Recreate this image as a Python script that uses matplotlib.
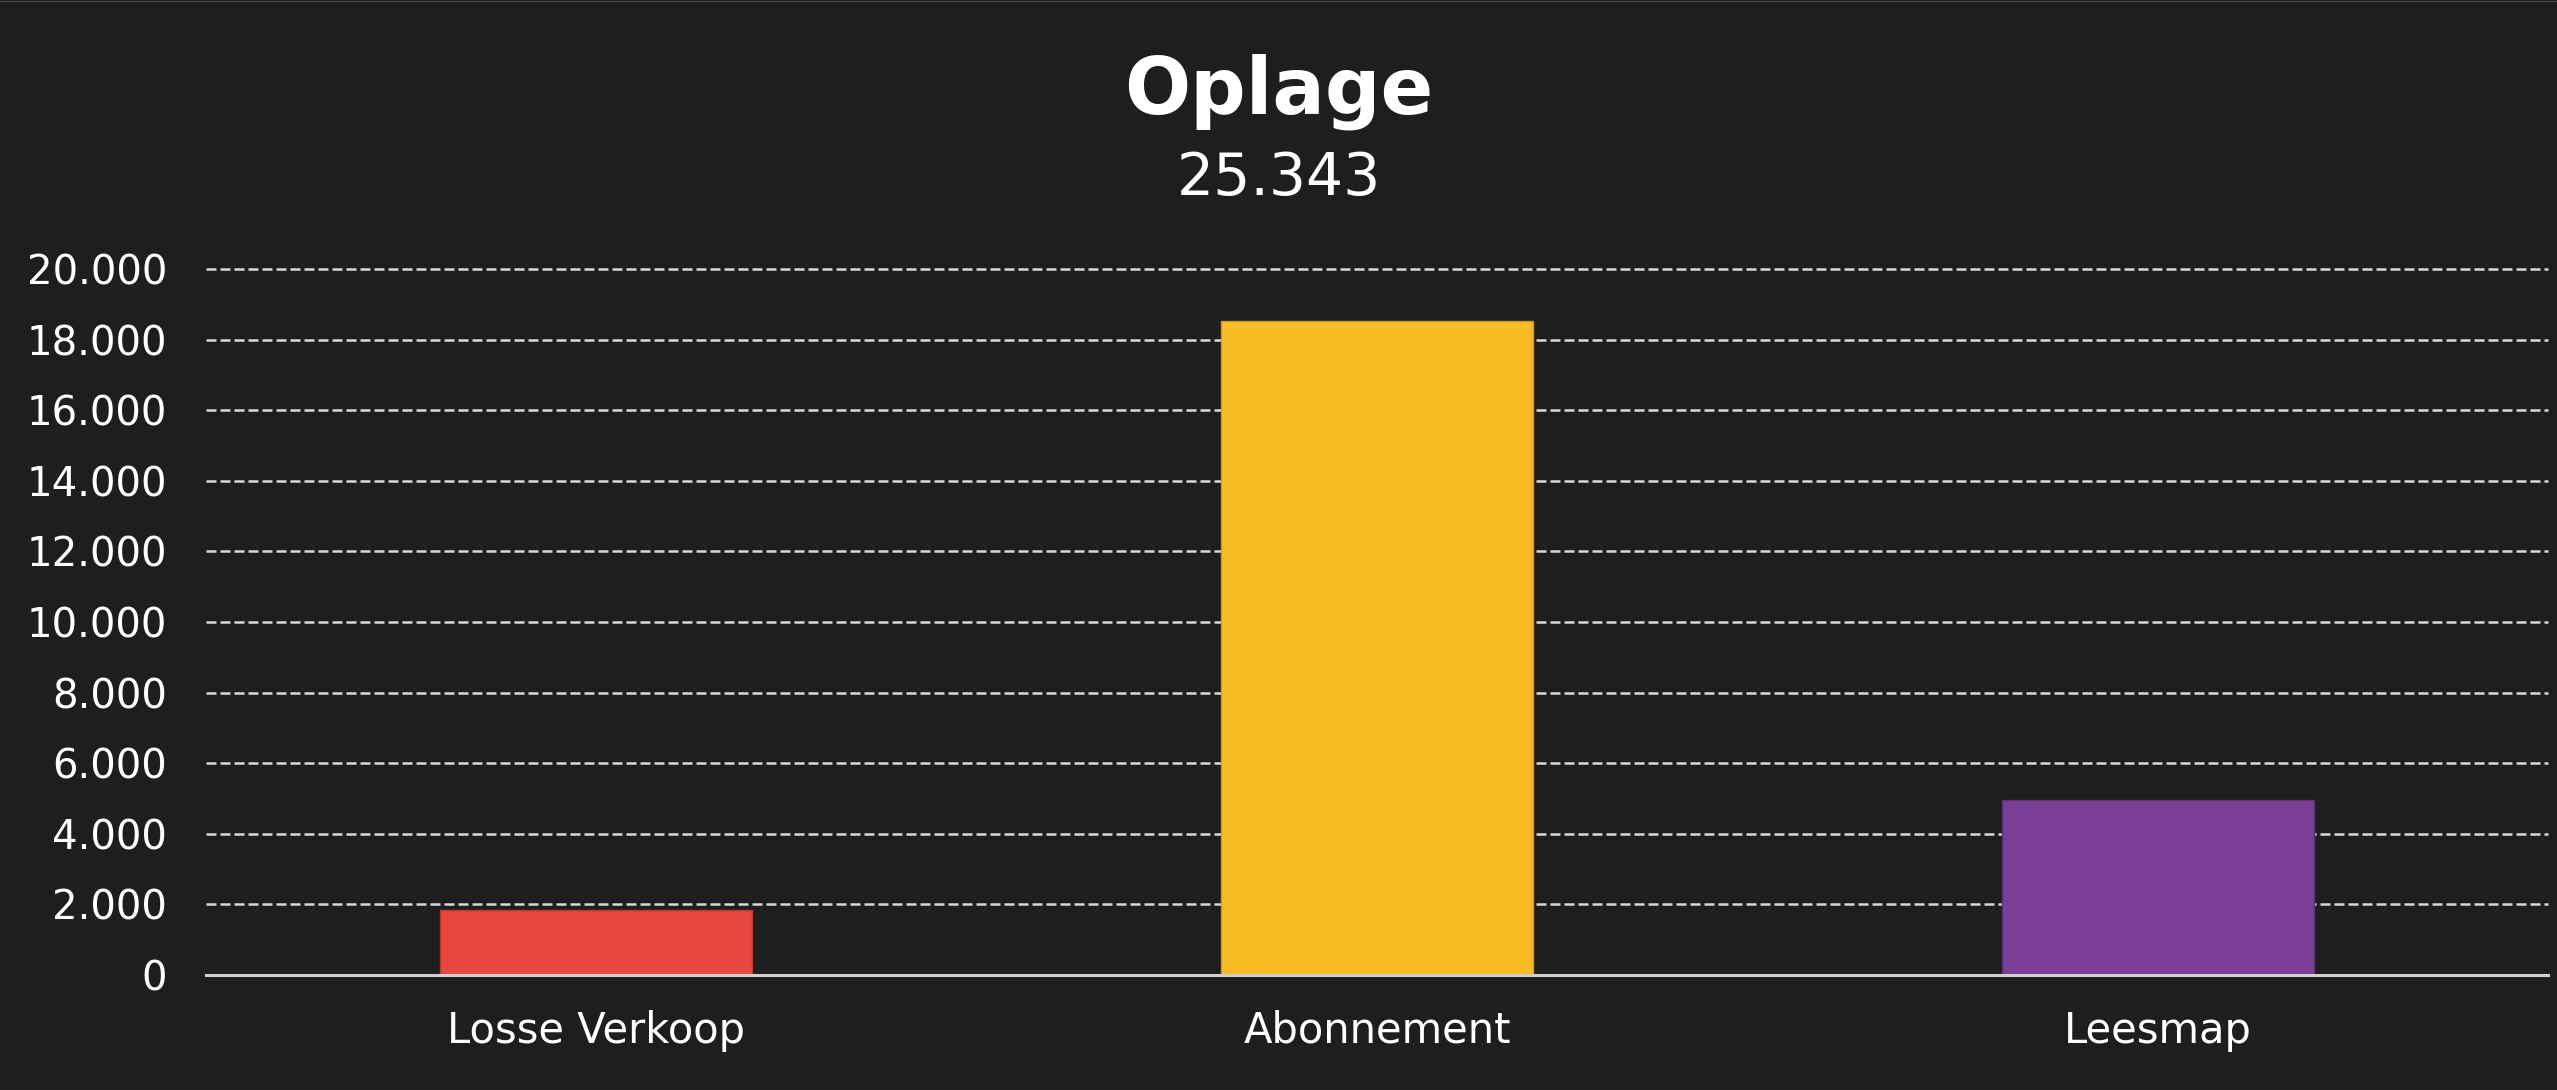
import matplotlib
matplotlib.use("Agg")
import matplotlib.pyplot as plt
from matplotlib.ticker import FuncFormatter
from matplotlib.lines import Line2D

categories = ["Losse Verkoop", "Abonnement", "Leesmap"]
values = [1835, 18540, 4968]
colors = ["#E8463E", "#FABC25", "#7B3E96"]
edge_colors = ["#B83832", "#C99A1E", "#5E2F73"]
title = "Oplage"
subtitle = "25.343"
yticks = [0, 2000, 4000, 6000, 8000, 10000, 12000, 14000, 16000, 18000, 20000]

BG = "#1E1E1E"
FG = "#FFFFFF"

plt.rcParams['font.family'] = ['DejaVu Sans']

fig = plt.figure(figsize=(25.57, 10.90), dpi=100, facecolor=BG)
ax = fig.add_axes([206/2557, 115/1090, (2548-206)/2557, (975-269)/1090])
ax.set_facecolor(BG)

x = list(range(len(categories)))
ax.bar(x, values, width=0.4, color=colors, edgecolor=edge_colors, linewidth=1.0, zorder=3)

ax.set_xlim(-0.5, len(categories) - 0.5)
ax.set_ylim(0, 20000)
ax.set_yticks(yticks)
ax.yaxis.set_major_formatter(FuncFormatter(lambda v, p: f"{int(v):,}".replace(",", ".")))
ax.set_xticks(x)
ax.set_xticklabels(categories)

ax.tick_params(axis='y', length=0, pad=28, labelsize=29, labelcolor=FG)
ax.tick_params(axis='x', length=0, pad=25, labelsize=30, labelcolor=FG)

for s in ["top", "right", "left"]:
    ax.spines[s].set_visible(False)
ax.spines["bottom"].set_color("#CFCFCF")
ax.spines["bottom"].set_linewidth(2.2)
ax.spines["bottom"].set_zorder(4)

for yv in yticks[1:]:
    ax.axhline(yv, color="#D8D8D8", linewidth=1.8, linestyle=(0, (4, 1.6)),
               zorder=1, clip_on=False)

fig.text(0.5, 1 - 92/1090, title, ha="center", va="center", fontsize=56,
         fontweight="bold", color=FG)
fig.text(0.5, 1 - 179/1090, subtitle, ha="center", va="center", fontsize=42,
         fontweight="normal", color=FG)

# thin frame lines at figure top/bottom
fig.add_artist(Line2D([0, 1], [1 - 0.5/1090, 1 - 0.5/1090], transform=fig.transFigure,
                      color="#4A4A4A", linewidth=0.8))
fig.add_artist(Line2D([0, 1], [0.5/1090, 0.5/1090], transform=fig.transFigure,
                      color="#BBBBBB", linewidth=0.8))

fig.savefig("out.png", dpi=100, facecolor=BG)
